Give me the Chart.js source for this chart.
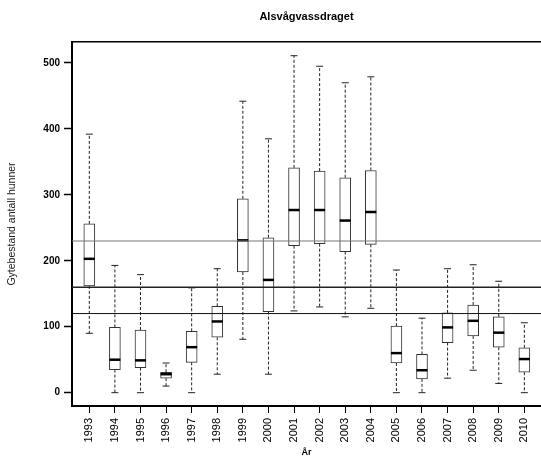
<!DOCTYPE html>
<html>
<head>
<meta charset="utf-8">
<script src="https://cdn.jsdelivr.net/npm/chart.js@4/dist/chart.umd.min.js"></script>
<style>
  body { margin: 0; background: #fff; }
  canvas { display: block; }
</style>
</head>
<body>
<canvas id="myChart" width="541" height="459"></canvas>
<script>
// values
const years = ['1993','1994','1995','1996','1997','1998','1999','2000','2001','2002','2003','2004','2005','2006','2007','2008','2009','2010'];
const whiskerLow  = [90, 0, 0, 10, 0, 28, 81, 28, 124, 130, 115, 128, 0, 0, 22, 34, 14, 0];
const q1          = [162, 35, 38, 22, 46, 84, 183, 123, 223, 226, 214, 225, 45, 21, 76, 86, 69, 31];
const median      = [203, 50, 49, 28, 69, 108, 231, 171, 277, 277, 261, 274, 60, 34, 99, 109, 91, 51];
const q3          = [256, 99, 95, 31, 93, 131, 294, 235, 341, 336, 326, 337, 101, 58, 121, 133, 115, 68];
const whiskerHigh = [392, 193, 179, 45, 159, 188, 442, 385, 511, 495, 470, 479, 186, 113, 188, 194, 169, 106];
const refLines = [230, 160, 120];
const yTicks = [0, 100, 200, 300, 400, 500];

const xMin = 0.324, xMax = 18.65;
const yMin = -20.2, yMax = 531.8;

Chart.defaults.font.family = "'Liberation Sans', Arial, sans-serif";

let whiskers = [];
let caps = [];
years.forEach((y, i) => {
    whiskers.push({x: i + 1, y: q3[i]}, {x: i + 1, y: whiskerHigh[i]}, {x: i + 1, y: null});
    whiskers.push({x: i + 1, y: q1[i]}, {x: i + 1, y: whiskerLow[i]}, {x: i + 1, y: null});
    caps.push({x: i + 1, y: whiskerHigh[i]}, {x: i + 1, y: whiskerLow[i]});
});

let refColors = ['#777', '#222', '#111'];
let refWidths = [1, 1.5, 1];
let refSets = refLines.map((v, k) => ({
    type: 'line',
    data: [{x: xMin, y: v}, {x: xMax, y: v}],
    borderColor: refColors[k],
    borderWidth: refWidths[k],
    pointRadius: 0,
    order: 0
}));

let ctx = document.getElementById('myChart').getContext('2d');
let myChart = new Chart(ctx, {
    type: 'bar',
    data: {
        datasets: [
            {
                data: years.map((y, i) => ({x: i + 1, y: [q1[i], q3[i]]})),
                backgroundColor: '#fff',
                borderColor: '#333',
                borderWidth: 1,
                borderSkipped: false,
                barThickness: 11,
                order: 3
            },
            {
                type: 'line',
                data: whiskers,
                borderColor: '#222',
                borderWidth: 1,
                borderDash: [3, 2],
                pointRadius: 0,
                spanGaps: false,
                order: 2
            },
            {
                type: 'line',
                data: caps,
                showLine: false,
                pointStyle: 'line',
                pointRadius: 3.5,
                pointBorderWidth: 1,
                pointBorderColor: '#222',
                order: 2
            },
            {
                type: 'line',
                data: median.map((m, i) => ({x: i + 1, y: m})),
                showLine: false,
                pointStyle: 'line',
                pointRadius: 5.5,
                pointBorderWidth: 2.5,
                pointBorderColor: '#000',
                order: 1
            },
            ...refSets
        ]
    },
    options: {
        responsive: false,
        animation: false,
        events: [],
        // no auto padding, the plot runs to the right edge like the original
        layout: { padding: 0, autoPadding: false },
        plugins: {
            legend: { display: false },
            tooltip: { enabled: false }
        },
        scales: {
            x: {
                type: 'linear',
                min: xMin,
                max: xMax,
                offset: false,
                afterBuildTicks: s => { s.ticks = years.map((y, i) => ({value: i + 1})); },
                afterFit: s => { s.height = 53; s.paddingLeft = 0; s.paddingRight = 0; },
                ticks: {
                    autoSkip: false,
                    minRotation: 90,
                    maxRotation: 90,
                    padding: 5,
                    color: '#000',
                    font: { size: 11 },
                    callback: (value, index) => years[index]
                },
                grid: { offset: false, drawOnChartArea: false, drawTicks: true, tickLength: 7, tickWidth: 1, color: '#000' },
                border: { display: true, color: '#000', width: 2 },
                title: { display: true, text: 'År', color: '#000', font: { size: 9, weight: 'bold' }, padding: { top: 0, bottom: 1 } }
            },
            x2: {
                type: 'linear',
                position: 'top',
                min: xMin,
                max: xMax,
                afterFit: s => { s.height = 42; },
                ticks: { display: false },
                grid: { offset: false, drawOnChartArea: false, drawTicks: false },
                border: { display: true, color: '#000', width: 1.5 },
                title: { display: true, text: 'Alsvågvassdraget', color: '#000', font: { size: 11, weight: 'bold' }, padding: { top: 10, bottom: 0 } }
            },
            y: {
                min: yMin,
                max: yMax,
                afterBuildTicks: s => { s.ticks = yTicks.map(v => ({value: v})); },
                afterFit: s => { s.width = 72; },
                ticks: { color: '#000', font: { size: 10, weight: 'bold' }, padding: 4 },
                grid: { drawOnChartArea: false, tickLength: 8, tickWidth: 1.5, color: '#000' },
                border: { display: true, color: '#000', width: 2 },
                title: { display: true, text: 'Gytebestand antall hunner', color: '#222', font: { size: 10.5 }, padding: { top: 6, bottom: 0 } }
            }
        }
    }
});
</script>
</body>
</html>
